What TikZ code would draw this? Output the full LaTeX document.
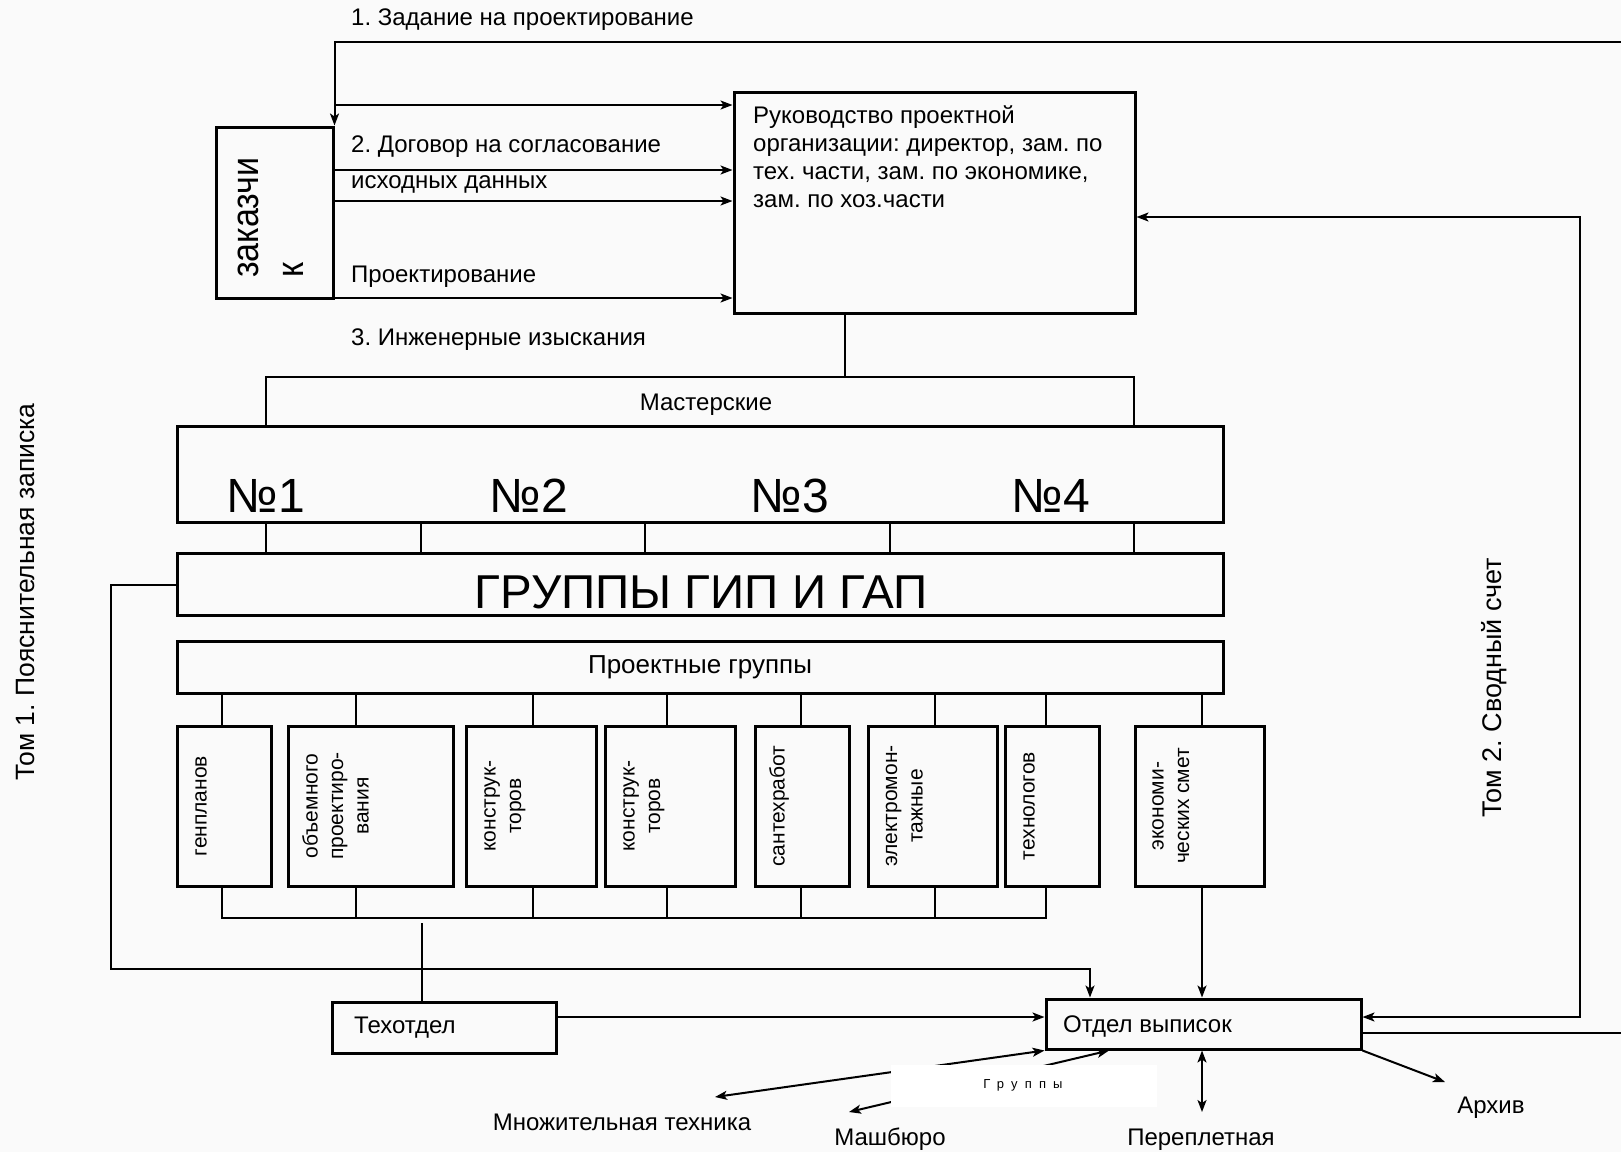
\documentclass[tikz,border=0pt]{standalone}
\usepackage{fontspec}
\setmainfont{Liberation Sans}
\newfontfamily\spacedfont[LetterSpace=55]{Liberation Sans}
\usetikzlibrary{arrows.meta,fit}
\definecolor{bgcol}{RGB}{250,250,250}
\frenchspacing
\tikzset{
  box/.style={draw=black, line width=3pt, inner sep=0pt},
  conn/.style={draw=black, line width=1.6pt},
  arr/.style={draw=black, line width=2pt, -{Stealth[length=12pt,width=9pt,inset=3pt]}},
  darr/.style={draw=black, line width=2pt, {Stealth[length=12pt,width=9pt,inset=3pt]}-{Stealth[length=12pt,width=9pt,inset=3pt]}},
  plain/.style={draw=black, line width=2pt},
  lbl/.style={inner sep=0pt, font=\fontsize{24}{28.3}\selectfont},
  vtxt/.style={inner sep=0pt, rotate=90, anchor=base, font=\fontsize{21}{25.5}\selectfont},
  big/.style={inner sep=0pt, anchor=base, font=\fontsize{48}{56}\selectfont},
}
\begin{document}
\begin{tikzpicture}[x=1pt,y=-1pt]
\useasboundingbox (0,0) rectangle (1621,1152);
\fill[bgcol] (0,0) rectangle (1621,1152);

% boxes
\node[box, fit={(216,127) (333,298)}] (zak) {};
\node[box, fit={(734,92) (1135,313)}] (ruk) {};
\node[box, fit={(177,426) (1223,522)}] (num) {};
\node[box, fit={(177,553) (1223,615)}] (gip) {};
\node[box, fit={(177,641) (1223,693)}] (proj) {};
\node[box, fit={(177,726) (271,886)}] (b1) {};
\node[box, fit={(288,726) (453,886)}] (b2) {};
\node[box, fit={(466,726) (596,886)}] (b3) {};
\node[box, fit={(605,726) (735,886)}] (b4) {};
\node[box, fit={(755,726) (849,886)}] (b5) {};
\node[box, fit={(868,726) (997,886)}] (b6) {};
\node[box, fit={(1005,726) (1099,886)}] (b7) {};
\node[box, fit={(1135,726) (1264,886)}] (b8) {};
\node[box, fit={(332,1002) (556,1053)}] (tech) {};
\node[box, fit={(1046,999) (1361,1049)}] (otd) {};

% free ends
\coordinate (rtop) at (1621,42);
\coordinate (rbot) at (1621,1033);
\coordinate (mtop) at (845,377);
\coordinate (bus) at (222,918);
\coordinate (arch) at (1445,1082);
\coordinate (mnozh) at (715,1097);
\coordinate (mash) at (849,1112);
\coordinate (perep) at (1202,1112);

% top connectors
\draw[arr] (rtop) -- (zak.north east |- rtop) -- (zak.north east);
\draw[arr] (zak.east |- 0,105) -- (ruk.west |- 0,105);
\draw[arr] (zak.east |- 0,170) -- (ruk.west |- 0,170);
\draw[arr] (zak.east |- 0,201) -- (ruk.west |- 0,201);
\draw[arr] (zak.east |- 0,298) -- (ruk.west |- 0,298);

% masterskie bracket
\draw[conn] (ruk.south -| mtop) -- (mtop);
\draw[conn] (num.north -| 266,0) -- (266,377) -- (1134,377) -- (num.north -| 1134,0);
\foreach \x in {266,421,645,890,1134}
  \draw[conn] (num.south -| \x,0) -- (gip.north -| \x,0);

% left line from GIP to otdel
\draw[arr] (gip.west |- 0,585) -| (111,969) -| (otd.north -| 1090,0);

% project groups
\draw[conn] (proj.south -| 222,0) -- (b1.north -| 222,0);
\draw[conn] (proj.south -| 356,0) -- (b2.north -| 356,0);
\draw[conn] (proj.south -| 533,0) -- (b3.north -| 533,0);
\draw[conn] (proj.south -| 667,0) -- (b4.north -| 667,0);
\draw[conn] (proj.south -| 801,0) -- (b5.north -| 801,0);
\draw[conn] (proj.south -| 935,0) -- (b6.north -| 935,0);
\draw[conn] (proj.south -| 1046,0) -- (b7.north -| 1046,0);
\draw[conn] (proj.south -| 1202,0) -- (b8.north -| 1202,0);

\draw[conn] (b1.south -| bus) -- (bus) -- (bus -| 1046,0) -- (b7.south -| 1046,0);
\draw[conn] (b2.south -| 356,0) -- (bus -| 356,0);
\draw[conn] (b3.south -| 533,0) -- (bus -| 533,0);
\draw[conn] (b4.south -| 667,0) -- (bus -| 667,0);
\draw[conn] (b5.south -| 801,0) -- (bus -| 801,0);
\draw[conn] (b6.south -| 935,0) -- (bus -| 935,0);
\draw[conn] (422,923) -- (tech.north -| 422,0);

% to otdel
\draw[arr] (tech.east |- 0,1017) -- (otd.west |- 0,1017);
\draw[arr] (b8.south -| 1202,0) -- (otd.north -| 1202,0);
\draw[darr] (otd.east |- 0,1017) -| (1580,217) -- (ruk.east |- 0,217);
\draw[plain] (otd.east |- rbot) -- (rbot);
\draw[darr] (otd.south -| perep) -- (perep);
\draw[arr] (otd.south east) -- (arch);
\draw[darr] (otd.south west) -- (mnozh);
\draw[darr] (otd.south -| 1109,0) -- (mash);
\fill[white] (891,1065) rectangle (1157,1107);

% texts
\node[lbl, anchor=base west] (t1) at (351,25) {1. Задание на проектирование};
\node[lbl, anchor=base west] (t2) at (351,152) {2. Договор на согласование};
\node[lbl, anchor=base west] (t2b) at (351,188) {исходных данных};
\node[lbl, anchor=base west] (t2c) at (351,282) {Проектирование};
\node[lbl, anchor=base west] (t3) at (351,345) {3. Инженерные изыскания};
\node[lbl, anchor=base west] (tr) at (753,123) {\begin{tabular}[t]{@{}l@{}}Руководство проектной\\организации: директор, зам. по\\тех. части, зам. по экономике,\\зам. по хоз.части\end{tabular}};
\node[inner sep=0pt, rotate=90, anchor=base west, font=\fontsize{34}{41}\selectfont] (tz) at (258,278) {\scalebox{1}[1.12]{\begin{tabular}[t]{@{}l@{}}заказчи\\к\end{tabular}}};
\node[lbl, anchor=base] (tm) at (706,410) {Мастерские};
\node[big] (n1) at (266,512) {№1};
\node[big] (n2) at (529,512) {№2};
\node[big] (n3) at (790,512) {№3};
\node[big] (n4) at (1051,512) {№4};
\node[big, font=\fontsize{47.5}{56}\selectfont] (tg) at (701,608) {ГРУППЫ ГИП И ГАП};
\node[lbl, anchor=base, font=\fontsize{26}{30}\selectfont] (tp) at (700,673) {Проектные группы};

\node[vtxt] (v1) at (206.5,806) {\begin{tabular}[t]{@{}c@{}}генпланов\end{tabular}};
\node[vtxt] (v2) at (317.5,806) {\begin{tabular}[t]{@{}c@{}}объемного\\проектиро-\\вания\end{tabular}};
\node[vtxt] (v3) at (495.5,806) {\begin{tabular}[t]{@{}c@{}}конструк-\\торов\end{tabular}};
\node[vtxt] (v4) at (634.5,806) {\begin{tabular}[t]{@{}c@{}}конструк-\\торов\end{tabular}};
\node[vtxt] (v5) at (784.5,806) {\begin{tabular}[t]{@{}c@{}}сантехработ\end{tabular}};
\node[vtxt] (v6) at (897,806) {\begin{tabular}[t]{@{}c@{}}электромон-\\тажные\end{tabular}};
\node[vtxt] (v7) at (1034.5,806) {\begin{tabular}[t]{@{}c@{}}технологов\end{tabular}};
\node[vtxt] (v8) at (1163.5,806) {\begin{tabular}[t]{@{}c@{}}экономи-\\ческих смет\end{tabular}};

\node[lbl, anchor=base west] (tt) at (354,1033) {Техотдел};
\node[lbl, anchor=base west] (to) at (1063,1032) {Отдел выписок};
\node[lbl, anchor=base] (tmn) at (622,1130) {Множительная техника};
\node[lbl, anchor=base] (tma) at (890,1145) {Машбюро};
\node[lbl, anchor=base] (tpe) at (1201,1145) {Переплетная};
\node[lbl, anchor=base] (tar) at (1491,1113) {Архив};
\node[inner sep=0pt, anchor=base, font=\spacedfont\fontsize{13}{15}\selectfont] (tgr) at (1023,1088) {Группы};

\node[inner sep=0pt, rotate=90, anchor=base, font=\fontsize{26.5}{31}\selectfont] (tom1) at (34,592) {Том 1. Пояснительная записка};
\node[inner sep=0pt, rotate=90, anchor=base, font=\fontsize{27}{31}\selectfont] (tom2) at (1501,688) {Том 2. Сводный счет};
\end{tikzpicture}
\end{document}
